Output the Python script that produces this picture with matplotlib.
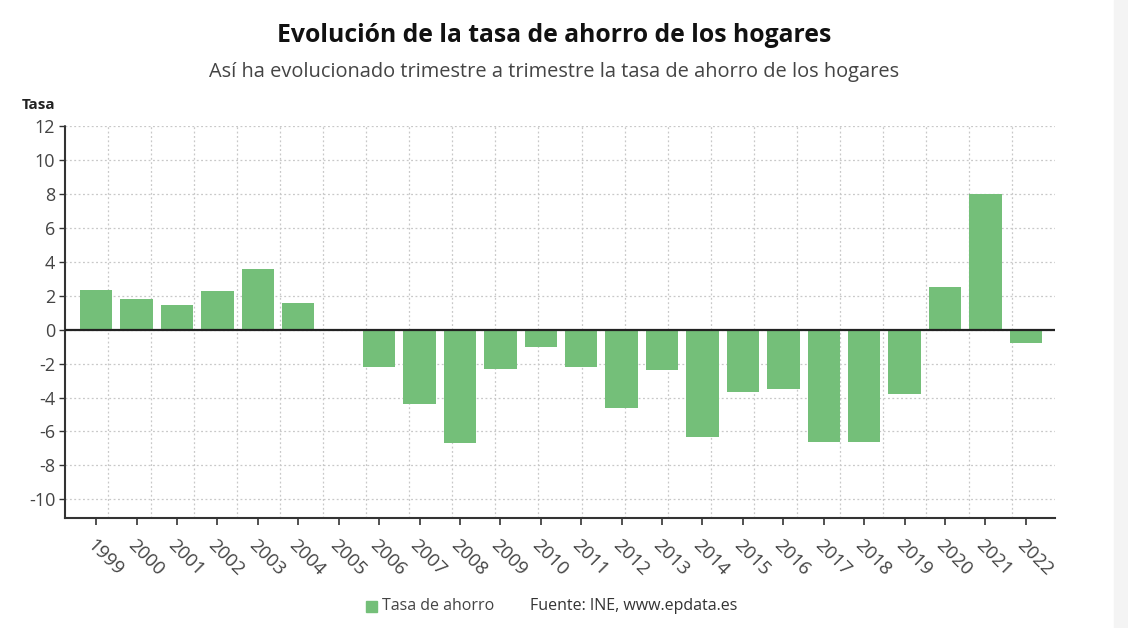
import matplotlib
matplotlib.use('Agg')
import matplotlib.pyplot as plt
import numpy as np
from matplotlib.ticker import FixedLocator

plt.rcParams['font.family'] = ['Open Sans', 'DejaVu Sans']
plt.rcParams['axes.unicode_minus'] = False

years = ['1999', '2000', '2001', '2002', '2003', '2004', '2005', '2006',
         '2007', '2008', '2009', '2010', '2011', '2012', '2013', '2014',
         '2015', '2016', '2017', '2018', '2019', '2020', '2021', '2022']
tasa = [2.35, 1.8, 1.45, 2.25, 3.55, 1.55, 0.0, -2.2,
        -4.4, -6.7, -2.3, -1.0, -2.2, -4.6, -2.35, -6.3,
        -3.7, -3.5, -6.6, -6.65, -3.8, 2.5, 8.0, -0.8]
y_ticks = [-10, -8, -6, -4, -2, 0, 2, 4, 6, 8, 10, 12]

BAR = '#74bf79'
TXT = '#444444'

fig = plt.figure(figsize=(11.28, 6.28), dpi=100)
fig.patches.append(plt.Rectangle((1114 / 1128, 0), 14 / 1128, 1,
                                 transform=fig.transFigure,
                                 color='#f4f4f4', zorder=0))

ax = fig.add_axes([65 / 1128, 1 - 518 / 628, (1055 - 65) / 1128, (518 - 126) / 628])

x = np.arange(len(years))
ax.bar(x, tasa, width=0.8, color=BAR, zorder=3)
ax.axhline(0, color='#222222', lw=1.6, zorder=4)

x0, x1 = -0.77, 23.72
ax.set_xlim(x0, x1)
ax.set_ylim(-11.1, 12)

# grid: horizontal at the y ticks, vertical splitting the plot in 23 parts
ax.set_yticks(y_ticks)
ax.xaxis.set_minor_locator(FixedLocator(np.linspace(x0, x1, 24)[1:-1]))
ax.grid(True, axis='y', which='major', ls=(0, (1.5, 2)), color='#c8c8c8', lw=0.9, zorder=0)
ax.grid(True, axis='x', which='minor', ls=(0, (1.5, 2)), color='#c8c8c8', lw=0.9, zorder=0)
ax.tick_params(axis='x', which='minor', length=0)

ax.set_xticks(x)
ax.set_xticklabels(years, rotation=-45, ha='left', va='top',
                   rotation_mode='anchor', fontsize=13.5, color=TXT)
ax.tick_params(axis='x', which='major', length=5, width=1.2, color='#333333', pad=8)
ax.tick_params(axis='y', length=4, width=1, color='#333333', labelsize=13,
               labelcolor=TXT, pad=3)

for s in ['top', 'right']:
    ax.spines[s].set_visible(False)
ax.spines['left'].set_color('#333333')
ax.spines['left'].set_linewidth(1.5)
ax.spines['left'].set_linestyle((0, (2, 1)))
ax.spines['bottom'].set_color('#333333')
ax.spines['bottom'].set_linewidth(1.5)

fig.text(22 / 1128, 1 - 105 / 628, 'Tasa', fontsize=11, fontweight='bold',
         color='#222222', va='center', ha='left')

fig.text(554 / 1128, 1 - 36 / 628, 'Evolución de la tasa de ahorro de los hogares',
         fontsize=17.8, fontweight='bold', color='#111111', ha='center', va='center')
fig.text(554 / 1128, 1 - 72 / 628,
         'Así ha evolucionado trimestre a trimestre la tasa de ahorro de los hogares',
         fontsize=14.4, color='#444444', ha='center', va='center')

# legend + source
fig.patches.append(plt.Rectangle((366 / 1128, 1 - 612 / 628), 11 / 1128, 11 / 628,
                                 transform=fig.transFigure, color=BAR))
fig.text(382 / 1128, 1 - 606 / 628, 'Tasa de ahorro', fontsize=11.5, color=TXT,
         ha='left', va='center')
fig.text(530 / 1128, 1 - 606 / 628, 'Fuente: INE, www.epdata.es', fontsize=11.5,
         color='#333333', ha='left', va='center')

fig.savefig('out.png', dpi=100)
